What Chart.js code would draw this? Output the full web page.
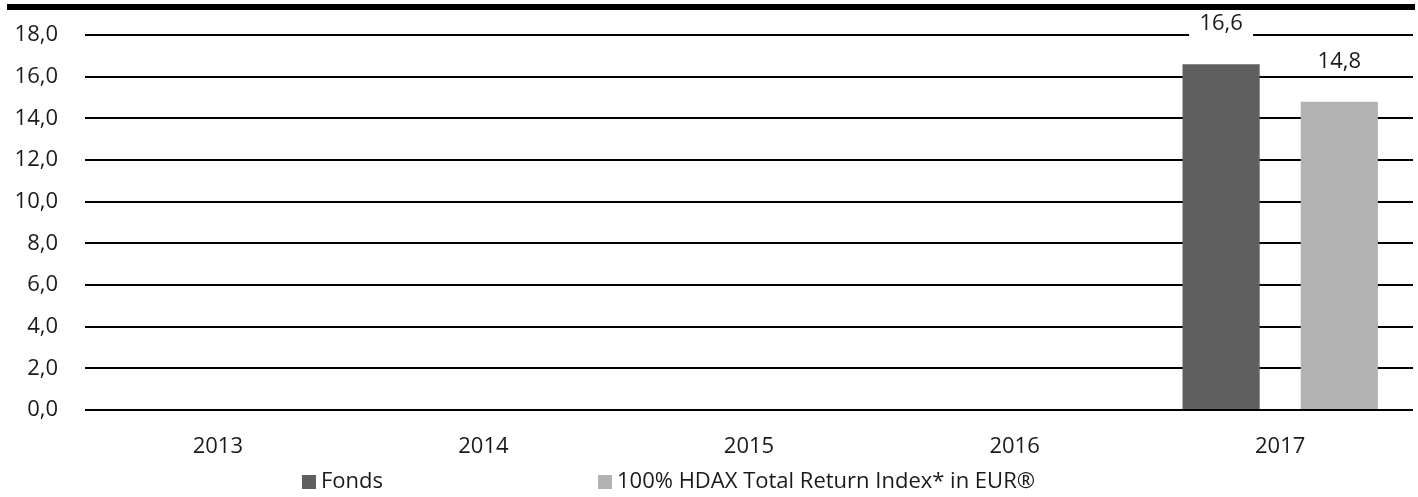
<!DOCTYPE html>
<html>
<head>
<meta charset="utf-8">
<script src="https://cdn.jsdelivr.net/npm/chart.js@4/dist/chart.umd.min.js"></script>
<style>
  html, body { margin: 0; padding: 0; background: #fff; }
  canvas { display: block; }
</style>
</head>
<body>
<canvas id="chart" width="1418" height="497"></canvas>
<script>
// Daten
const jahre = ['2013', '2014', '2015', '2016', '2017'];
const fondsWerte = [null, null, null, null, 16.6];
const hdaxWerte = [null, null, null, null, 14.8];
const serienNamen = ['Fonds', '100% HDAX Total Return Index* in EUR®'];

const schrift = '"Open Sans", "Noto Sans", sans-serif';
const textFarbe = '#1a1a1a';

function formatDe(v) {
    return v.toFixed(1).replace('.', ',');
}

// Schwarzer Balken oben
const topBar = {
    id: 'topBar',
    beforeDraw(chart) {
        const ctx = chart.ctx;
        ctx.save();
        ctx.fillStyle = '#000';
        ctx.fillRect(7, 4, 1408, 6);
        ctx.restore();
    }
};

// Werte über den Balken, mit weißem Hintergrund
const wertLabels = {
    id: 'wertLabels',
    afterDatasetsDraw(chart) {
        const ctx = chart.ctx;
        ctx.save();
        ctx.font = '22px ' + schrift;
        ctx.textAlign = 'center';
        ctx.textBaseline = 'middle';
        chart.data.datasets.forEach((ds, i) => {
            const meta = chart.getDatasetMeta(i);
            meta.data.forEach((bar, j) => {
                const v = ds.data[j];
                if (v === null || v === undefined) return;
                const txt = formatDe(v);
                const y = bar.y - 40;
                ctx.fillStyle = '#fff';
                ctx.fillRect(bar.x - 32, y - 13, 64, 26);
                ctx.fillStyle = textFarbe;
                ctx.fillText(txt, bar.x, y);
            });
        });
        ctx.restore();
    }
};

// Legende unten
const legendeUnten = {
    id: 'legendeUnten',
    afterDraw(chart) {
        const ctx = chart.ctx;
        const startX = [302, 598];
        ctx.save();
        ctx.font = '22px ' + schrift;
        ctx.textAlign = 'left';
        ctx.textBaseline = 'middle';
        chart.data.datasets.forEach((ds, i) => {
            ctx.fillStyle = ds.backgroundColor;
            ctx.fillRect(startX[i], 475, 14, 14);
            ctx.fillStyle = textFarbe;
            ctx.fillText(ds.label, startX[i] + 19, 482);
        });
        ctx.restore();
    }
};

new Chart(document.getElementById('chart'), {
    type: 'bar',
    data: {
        labels: jahre,
        datasets: [
            {
                label: serienNamen[0],
                data: fondsWerte,
                backgroundColor: '#5f5f5f',
                categoryPercentage: 0.89,
                barPercentage: 0.653
            },
            {
                label: serienNamen[1],
                data: hdaxWerte,
                backgroundColor: '#b2b2b2',
                categoryPercentage: 0.89,
                barPercentage: 0.653
            }
        ]
    },
    options: {
        responsive: false,
        animation: false,
        layout: {
            padding: { top: 35, right: 5, bottom: 22, left: 0 }
        },
        plugins: {
            legend: { display: false },
            tooltip: { enabled: false }
        },
        scales: {
            x: {
                grid: { display: false },
                border: { display: false },
                ticks: {
                    color: textFarbe,
                    font: { family: schrift, size: 22 },
                    padding: 16,
                    maxRotation: 0
                },
                afterFit(scale) { scale.height = 65; }
            },
            y: {
                min: 0,
                max: 18,
                grid: {
                    color: '#000',
                    lineWidth: 2,
                    drawTicks: true,
                    tickLength: 27,
                    tickColor: 'rgba(0,0,0,0)'
                },
                border: { display: false },
                ticks: {
                    stepSize: 2,
                    color: textFarbe,
                    font: { family: schrift, size: 22 },
                    padding: 0,
                    callback: (v) => formatDe(v)
                },
                afterFit(scale) { scale.width = 85; }
            }
        }
    },
    plugins: [topBar, wertLabels, legendeUnten]
});
</script>
</body>
</html>
